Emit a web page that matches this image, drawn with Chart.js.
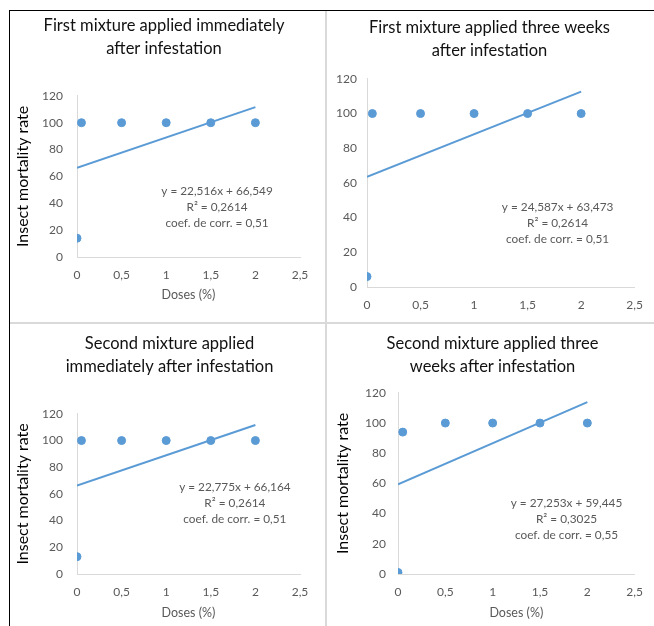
<!DOCTYPE html>
<html>
<head>
<meta charset="utf-8">
<title>Insect mortality rate</title>
<script src="https://cdn.jsdelivr.net/npm/chart.js@4.4.1/dist/chart.umd.min.js"></script>
<style>
    html, body { margin: 0; padding: 0; background: #fff; }
    body { width: 654px; height: 626px; position: relative; overflow: hidden; }
    .frame-top { position: absolute; left: 9px; top: 10px; width: 645px; height: 1px; background: #000; }
    .frame-left { position: absolute; left: 9px; top: 10px; width: 1px; height: 616px; background: #000; }
    .sep-v { position: absolute; left: 325px; top: 11px; width: 2px; height: 615px; background: #d9d9d9; }
    .sep-h { position: absolute; left: 10px; top: 322px; width: 644px; height: 2px; background: #d9d9d9; }
    canvas { position: absolute; }
</style>
</head>
<body>
<div class="frame-top"></div>
<div class="frame-left"></div>
<div class="sep-v"></div>
<div class="sep-h"></div>
<canvas id="chart-1" width="315" height="310" style="left:10px;top:12px"></canvas>
<canvas id="chart-2" width="328" height="310" style="left:326px;top:12px"></canvas>
<canvas id="chart-3" width="315" height="302" style="left:10px;top:324px"></canvas>
<canvas id="chart-4" width="328" height="302" style="left:326px;top:324px"></canvas>
<script>
    'use strict';

    // data
    var doses = [0, 0.05, 0.5, 1, 1.5, 2];
    var mortality1 = [14, 100, 100, 100, 100, 100];
    var mortality2 = [6, 100, 100, 100, 100, 100];
    var mortality3 = [13, 100, 100, 100, 100, 100];
    var mortality4 = [1, 94, 100, 100, 100, 100];

    // linear trend lines, ends at dose 0 and 2
    var trendDoses = [0, 2];
    var trend1 = [66.5, 111.6];
    var trend2 = [63.5, 112.6];
    var trend3 = [66.2, 111.7];
    var trend4 = [59.4, 113.9];

    var xTicks = [0, 0.5, 1, 1.5, 2, 2.5];
    var yTicks = [0, 20, 40, 60, 80, 100, 120];

    var title1 = ['First mixture applied immediately', 'after infestation'];
    var title2 = ['First mixture applied three weeks', 'after infestation'];
    var title3 = ['Second mixture applied', 'immediately after infestation'];
    var title4 = ['Second mixture applied three', 'weeks after infestation'];

    var equation1 = ['y = 22,516x + 66,549', 'R\u00B2 = 0,2614', 'coef. de corr. = 0,51'];
    var equation2 = ['y = 24,587x + 63,473', 'R\u00B2 = 0,2614', 'coef. de corr. = 0,51'];
    var equation3 = ['y = 22,775x + 66,164', 'R\u00B2 = 0,2614', 'coef. de corr. = 0,51'];
    var equation4 = ['y = 27,253x + 59,445', 'R\u00B2 = 0,3025', 'coef. de corr. = 0,55'];

    var BLUE = '#5b9bd5';
    var GREY_TEXT = '#595959';
    var AXIS = '#d9d9d9';

    Chart.defaults.font.family = 'Lato, "Open Sans", sans-serif';

    var equationPlugin = {
        id: 'equationLabel',
        afterDatasetsDraw: function (chart, args, opts) {
            if (!opts.lines) {
                return;
            }
            var ctx = chart.ctx;
            var x = chart.scales.x.getPixelForValue(opts.x);
            var y = chart.scales.y.getPixelForValue(opts.y);
            ctx.save();
            ctx.font = '11.8px Lato, sans-serif';
            ctx.fillStyle = GREY_TEXT;
            ctx.textAlign = 'center';
            ctx.textBaseline = 'middle';
            opts.lines.forEach(function (line, i) {
                ctx.fillText(line, x, y + i * 16);
            });
            ctx.restore();
        }
    };

    function points(xs, ys) {
        return xs.map(function (x, i) {
            return {x: x, y: ys[i]};
        });
    }

    function makeChart(id, p) {
        return new Chart(document.getElementById(id), {
            type: 'scatter',
            data: {
                datasets: [
                    {
                        label: 'Mortality',
                        data: points(doses, p.mortality),
                        backgroundColor: BLUE,
                        borderColor: BLUE,
                        pointRadius: 4,
                        pointHoverRadius: 4
                    },
                    {
                        label: 'Linear trend',
                        type: 'line',
                        data: points(trendDoses, p.trend),
                        borderColor: BLUE,
                        borderWidth: 2,
                        pointRadius: 0,
                        fill: false
                    }
                ]
            },
            options: {
                responsive: false,
                animation: false,
                events: [],
                // left padding only moves the title centre, the y axis width makes up for it
                layout: {padding: {left: p.padLeft, right: p.padRight, top: 0, bottom: 0}},
                plugins: {
                    legend: {display: false},
                    tooltip: {enabled: false},
                    title: {
                        display: true,
                        text: p.title,
                        color: '#111',
                        font: {size: 16.5, weight: 'normal', lineHeight: 1.42},
                        padding: {top: p.titleTop, bottom: p.titleBottom}
                    },
                    equationLabel: {lines: p.equation, x: p.eqX, y: p.eqY}
                },
                scales: {
                    x: {
                        type: 'linear',
                        min: 0,
                        max: 2.5,
                        afterBuildTicks: function (scale) {
                            scale.ticks = xTicks.map(function (v) { return {value: v}; });
                        },
                        afterFit: function (scale) {
                            scale.height = p.xHeight;
                        },
                        grid: {display: false, drawTicks: false},
                        border: {display: true, color: AXIS, width: 1},
                        ticks: {
                            color: GREY_TEXT,
                            font: {size: 12},
                            padding: 11,
                            maxRotation: 0,
                            callback: function (v) {
                                return String(v).replace('.', ',');
                            }
                        },
                        title: {
                            display: p.xTitle,
                            text: 'Doses (%)',
                            color: GREY_TEXT,
                            font: {size: 12.5},
                            padding: {top: 0, bottom: p.xTitleBottom}
                        }
                    },
                    y: {
                        type: 'linear',
                        min: 0,
                        max: 120,
                        afterBuildTicks: function (scale) {
                            scale.ticks = yTicks.map(function (v) { return {value: v}; });
                        },
                        afterFit: function (scale) {
                            scale.width = p.yWidth;
                        },
                        grid: {display: false, drawTicks: false},
                        border: {display: true, color: AXIS, width: 1},
                        ticks: {
                            color: GREY_TEXT,
                            font: {size: 12},
                            padding: p.yTickPad
                        },
                        title: {
                            display: p.yTitle,
                            text: 'Insect mortality rate',
                            color: '#000',
                            font: {size: 16},
                            padding: {top: p.yTitlePad, bottom: 0}
                        }
                    }
                }
            },
            plugins: [equationPlugin]
        });
    }

    makeChart('chart-1', {
        mortality: mortality1, trend: trend1, title: title1, equation: equation1,
        eqX: 1.57, eqY: 49, padLeft: 18, padRight: 25, titleTop: 1.5, titleBottom: 35.5,
        xHeight: 65, yWidth: 49, yTickPad: 14, xTitle: true, xTitleBottom: 19.5,
        yTitle: true, yTitlePad: -15
    });

    makeChart('chart-2', {
        mortality: mortality2, trend: trend2, title: title2, equation: equation2,
        eqX: 1.78, eqY: 46, padLeft: 8, padRight: 9, titleTop: 4, titleBottom: 16,
        xHeight: 35, yWidth: 33, yTickPad: 10, xTitle: false, xTitleBottom: 0,
        yTitle: false, yTitlePad: 0
    });

    makeChart('chart-3', {
        mortality: mortality3, trend: trend3, title: title3, equation: equation3,
        eqX: 1.77, eqY: 65, padLeft: 29, padRight: 25, titleTop: 8, titleBottom: 35,
        xHeight: 52, yWidth: 38, yTickPad: 14, xTitle: true, xTitleBottom: 5.5,
        yTitle: true, yTitlePad: -26
    });

    makeChart('chart-4', {
        mortality: mortality4, trend: trend4, title: title4, equation: equation4,
        eqX: 1.78, eqY: 47, padLeft: 13, padRight: 8, titleTop: 8, titleBottom: 14,
        xHeight: 52, yWidth: 59, yTickPad: 12, xTitle: true, xTitleBottom: 5.5,
        yTitle: true, yTitlePad: -5.5
    });
</script>
</body>
</html>
